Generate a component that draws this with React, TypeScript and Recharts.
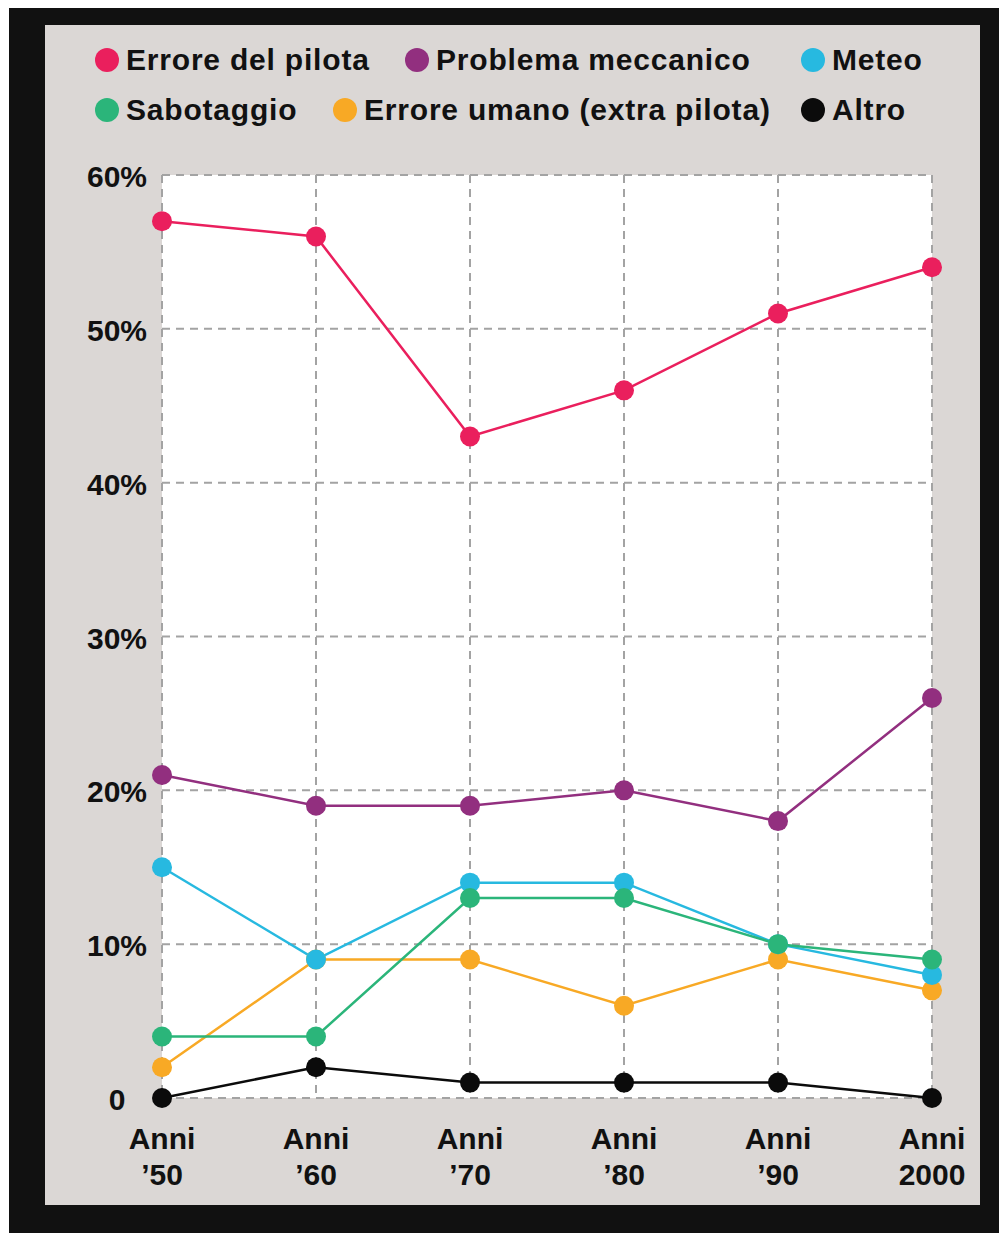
import { CartesianGrid, Line, LineChart, XAxis, YAxis } from 'recharts';

const categories = ['Anni ’50', 'Anni ’60', 'Anni ’70', 'Anni ’80', 'Anni ’90', 'Anni 2000'];
const erroreDelPilota = [57, 56, 43, 46, 51, 54];
const problemaMeccanico = [21, 19, 19, 20, 18, 26];
const meteo = [15, 9, 14, 14, 10, 8];
const sabotaggio = [4, 4, 13, 13, 10, 9];
const erroreUmano = [2, 9, 9, 6, 9, 7];
const altro = [0, 2, 1, 1, 1, 0];
const yTicks = [0, 10, 20, 30, 40, 50, 60];

const series = [
    { key: 'altro', name: 'Altro', values: altro, color: '#0b0b0b' },
    { key: 'erroreUmano', name: 'Errore umano (extra pilota)', values: erroreUmano, color: '#f8a925' },
    { key: 'meteo', name: 'Meteo', values: meteo, color: '#27b9e0' },
    { key: 'sabotaggio', name: 'Sabotaggio', values: sabotaggio, color: '#2bb57a' },
    { key: 'problemaMeccanico', name: 'Problema meccanico', values: problemaMeccanico, color: '#922f7f' },
    { key: 'erroreDelPilota', name: 'Errore del pilota', values: erroreDelPilota, color: '#ea1f5d' },
];

const data = categories.map((c, i) => {
    const row: Record<string, string | number> = { cat: c };
    series.forEach((s) => (row[s.key] = s.values[i]));
    return row;
});

const FONT = '"Liberation Sans", Arial, Helvetica, sans-serif';

// legend placement (panel coords): [seriesKey, dotX, rowY]
const legendLayout: [string, number, number][] = [
    ['erroreDelPilota', 62, 35],
    ['problemaMeccanico', 372, 35],
    ['meteo', 768, 35],
    ['sabotaggio', 62, 85],
    ['erroreUmano', 300, 85],
    ['altro', 768, 85],
];

function XTick({ x, y, payload }: any) {
    const parts = String(payload.value).split(' ');
    return (
        <text x={x} y={y} textAnchor="middle" fontFamily={FONT} fontWeight="bold" fontSize={30} fill="#111">
            <tspan x={x} dy={51}>{parts[0]}</tspan>
            <tspan x={x} dy={36}>{parts[1]}</tspan>
        </text>
    );
}

// labels are centred in the gutter left of the plot
function YTick({ x, y, payload }: any) {
    const v = payload.value;
    return (
        <text x={x - 33} y={y} dy={12} textAnchor="middle" fontFamily={FONT} fontWeight="bold" fontSize={30} fill="#111">
            {v === 0 ? '0' : `${v}%`}
        </text>
    );
}

export default function App() {
    return (
        <div style={{ position: 'absolute', left: 0, top: 0, width: 999, height: 1233, background: '#fff' }}>
            <div style={{ position: 'absolute', left: 9, top: 8, width: 990, height: 1225, background: '#111' }} />
            <div style={{ position: 'absolute', left: 45, top: 25, width: 935, height: 1180, background: '#dbd7d5' }}>
                {legendLayout.map(([key, dx, dy]) => {
                    const s = series.find((q) => q.key === key)!;
                    return (
                        <div key={key} style={{ position: 'absolute', left: dx - 12, top: dy - 18, height: 36, display: 'flex', alignItems: 'center', whiteSpace: 'nowrap' }}>
                            <span style={{ width: 24, height: 24, borderRadius: 12, background: s.color, display: 'inline-block' }} />
                            <span style={{ marginLeft: 7, fontFamily: FONT, fontWeight: 'bold', fontSize: 30, letterSpacing: 0.8, color: '#111' }}>{s.name}</span>
                        </div>
                    );
                })}
                <LineChart width={935} height={1180} data={data} margin={{ top: 150, right: 48, left: 0, bottom: 0 }}>
                    <CartesianGrid fill="#fff" stroke="#a3a3a3" strokeWidth={2} strokeDasharray="8 6" />
                    <XAxis dataKey="cat" height={107} axisLine={false} tickLine={false} tickSize={0} tickMargin={0} interval={0} tick={<XTick />} />
                    <YAxis domain={[0, 60]} ticks={yTicks} width={117} axisLine={false} tickLine={false} tickSize={0} tickMargin={12} interval={0} tick={<YTick />} />
                    {series.map((s) => (
                        <Line
                            key={s.key}
                            type="linear"
                            dataKey={s.key}
                            name={s.name}
                            stroke={s.color}
                            strokeWidth={2.5}
                            dot={{ r: 10, fill: s.color, stroke: 'none' }}
                            isAnimationActive={false}
                        />
                    ))}
                </LineChart>
            </div>
        </div>
    );
}
